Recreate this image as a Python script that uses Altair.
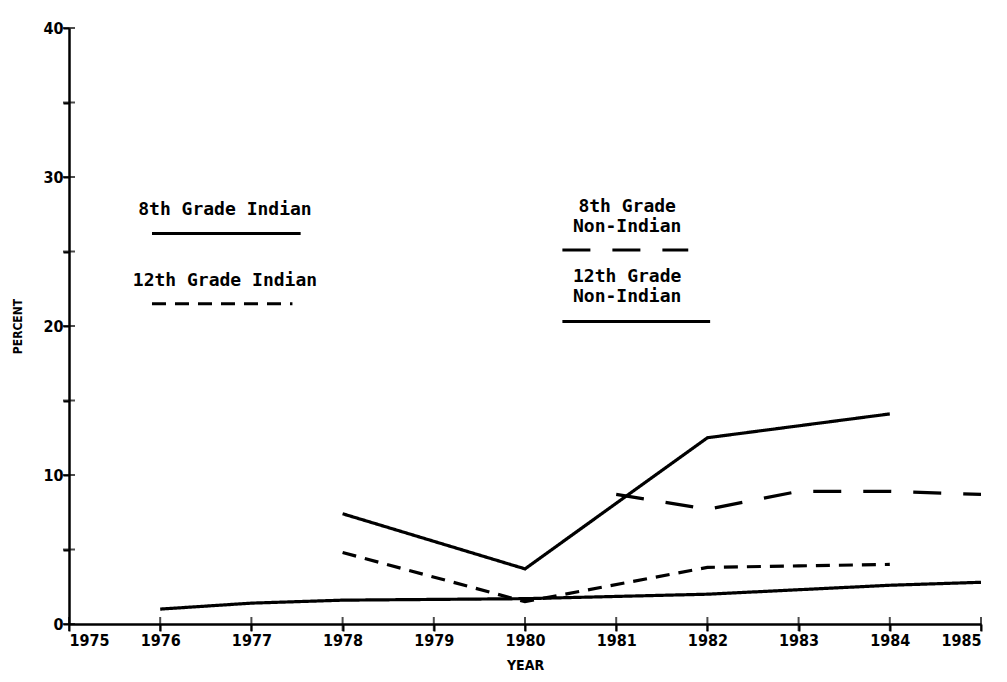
import altair as alt
import pandas as pd

# ---- data ----
s8_ind_years = [1978, 1980, 1982, 1984]
s8_ind_vals = [7.4, 3.7, 12.5, 14.1]

s12_ind_years = [1978, 1980, 1982, 1983, 1984]
s12_ind_vals = [4.8, 1.5, 3.8, 3.9, 4.0]

s8_non_years = [1981, 1982, 1983, 1984, 1985]
s8_non_vals = [8.7, 7.7, 8.9, 8.9, 8.7]

s12_non_years = [1976, 1977, 1978, 1980, 1982, 1984, 1985]
s12_non_vals = [1.0, 1.4, 1.6, 1.7, 2.0, 2.6, 2.8]

series_names = ["8th Grade Indian", "12th Grade Indian",
                "8th Grade Non-Indian", "12th Grade Non-Indian"]
dash_styles = [[1, 0], [14, 9], [28, 22], [1, 0]]

# legend annotation (data units)
label_texts = ["8th Grade Indian", "12th Grade Indian",
               "8th Grade\nNon-Indian", "12th Grade\nNon-Indian"]
label_x = [1976.71, 1976.71, 1981.12, 1981.12]
label_y = [27.8, 23.0, 28.0, 23.3]
key_x1 = [1975.91, 1975.91, 1980.41, 1980.41]
key_x2 = [1977.54, 1977.45, 1981.79, 1982.03]
key_y = [26.2, 21.5, 25.1, 20.3]

x_ticks = list(range(1975, 1986))
y_ticks = [0, 5, 10, 15, 20, 25, 30, 35, 40]

rows = []
for name, ys, vs in zip(series_names,
                        [s8_ind_years, s12_ind_years, s8_non_years, s12_non_years],
                        [s8_ind_vals, s12_ind_vals, s8_non_vals, s12_non_vals]):
    for y, v in zip(ys, vs):
        rows.append({"series": name, "year": y, "pct": v})
df = pd.DataFrame(rows)

keys = pd.DataFrame({"series": series_names, "x1": key_x1, "x2": key_x2, "y": key_y})
labels = pd.DataFrame({"text": label_texts, "x": label_x, "y": label_y})
xt = pd.DataFrame({"year": x_ticks})
yt = pd.DataFrame({"pct": y_ticks})

FONT = "DejaVu Sans Condensed"
xscale = alt.Scale(domain=[1975, 1985], nice=False, zero=False)
yscale = alt.Scale(domain=[0, 40], nice=False)
dash = alt.StrokeDash("series:N", scale=alt.Scale(domain=series_names, range=dash_styles), legend=None)

lines = alt.Chart(df).mark_line(color="black", strokeWidth=3.2).encode(
    x=alt.X("year:Q", scale=xscale,
            axis=alt.Axis(values=x_ticks, format="d", title="YEAR", labelFont=FONT,
                          labelFontSize=16, labelFontWeight="bold", labelColor="black",
                          titleFont=FONT, titleFontSize=14, titleFontWeight="bold",
                          titleColor="black", titlePadding=10, domainColor="black",
                          domainWidth=2.5, tickColor="black", tickWidth=2, tickSize=7,
                          grid=False, labelPadding=1)),
    y=alt.Y("pct:Q", scale=yscale,
            axis=alt.Axis(values=y_ticks, labelExpr="datum.value % 10 == 0 ? datum.label : ''",
                          title="PERCENT", labelFont=FONT, labelFontSize=16,
                          labelFontWeight="bold", labelColor="black", titleFont=FONT,
                          titleFontSize=12, titleFontWeight="bold", titleColor="black",
                          titlePadding=18, domainColor="black", domainWidth=2.5,
                          tickColor="black", tickWidth=2, tickSize=6, grid=False,
                          labelPadding=0)),
    strokeDash=dash,
    detail="series:N",
)

xcross = alt.Chart(xt).mark_tick(color="black", thickness=2, size=14, orient="vertical").encode(
    x=alt.X("year:Q", scale=xscale), y=alt.datum(0))
ycross = alt.Chart(yt).mark_tick(color="black", thickness=2, size=12, orient="horizontal").encode(
    y=alt.Y("pct:Q", scale=yscale), x=alt.datum(1975))

key_rules = alt.Chart(keys).mark_rule(color="black", strokeWidth=3).encode(
    x=alt.X("x1:Q", scale=xscale), x2="x2:Q", y=alt.Y("y:Q", scale=yscale),
    strokeDash=dash)

key_text = alt.Chart(labels).mark_text(font="DejaVu Sans Mono", fontSize=18, fontWeight="bold",
                                       color="black", lineBreak="\n", lineHeight=20).encode(
    x=alt.X("x:Q", scale=xscale), y=alt.Y("y:Q", scale=yscale), text="text:N")

chart = alt.layer(lines, xcross, ycross, key_rules, key_text).properties(
    width=912, height=596,
    autosize=alt.AutoSizeParams(type="none"),
    padding={"left": 61, "top": 20, "right": 18, "bottom": 56},
    background="white",
).configure_view(stroke=None)

chart.save("out.html", embed_options={"renderer": "svg", "actions": False})
